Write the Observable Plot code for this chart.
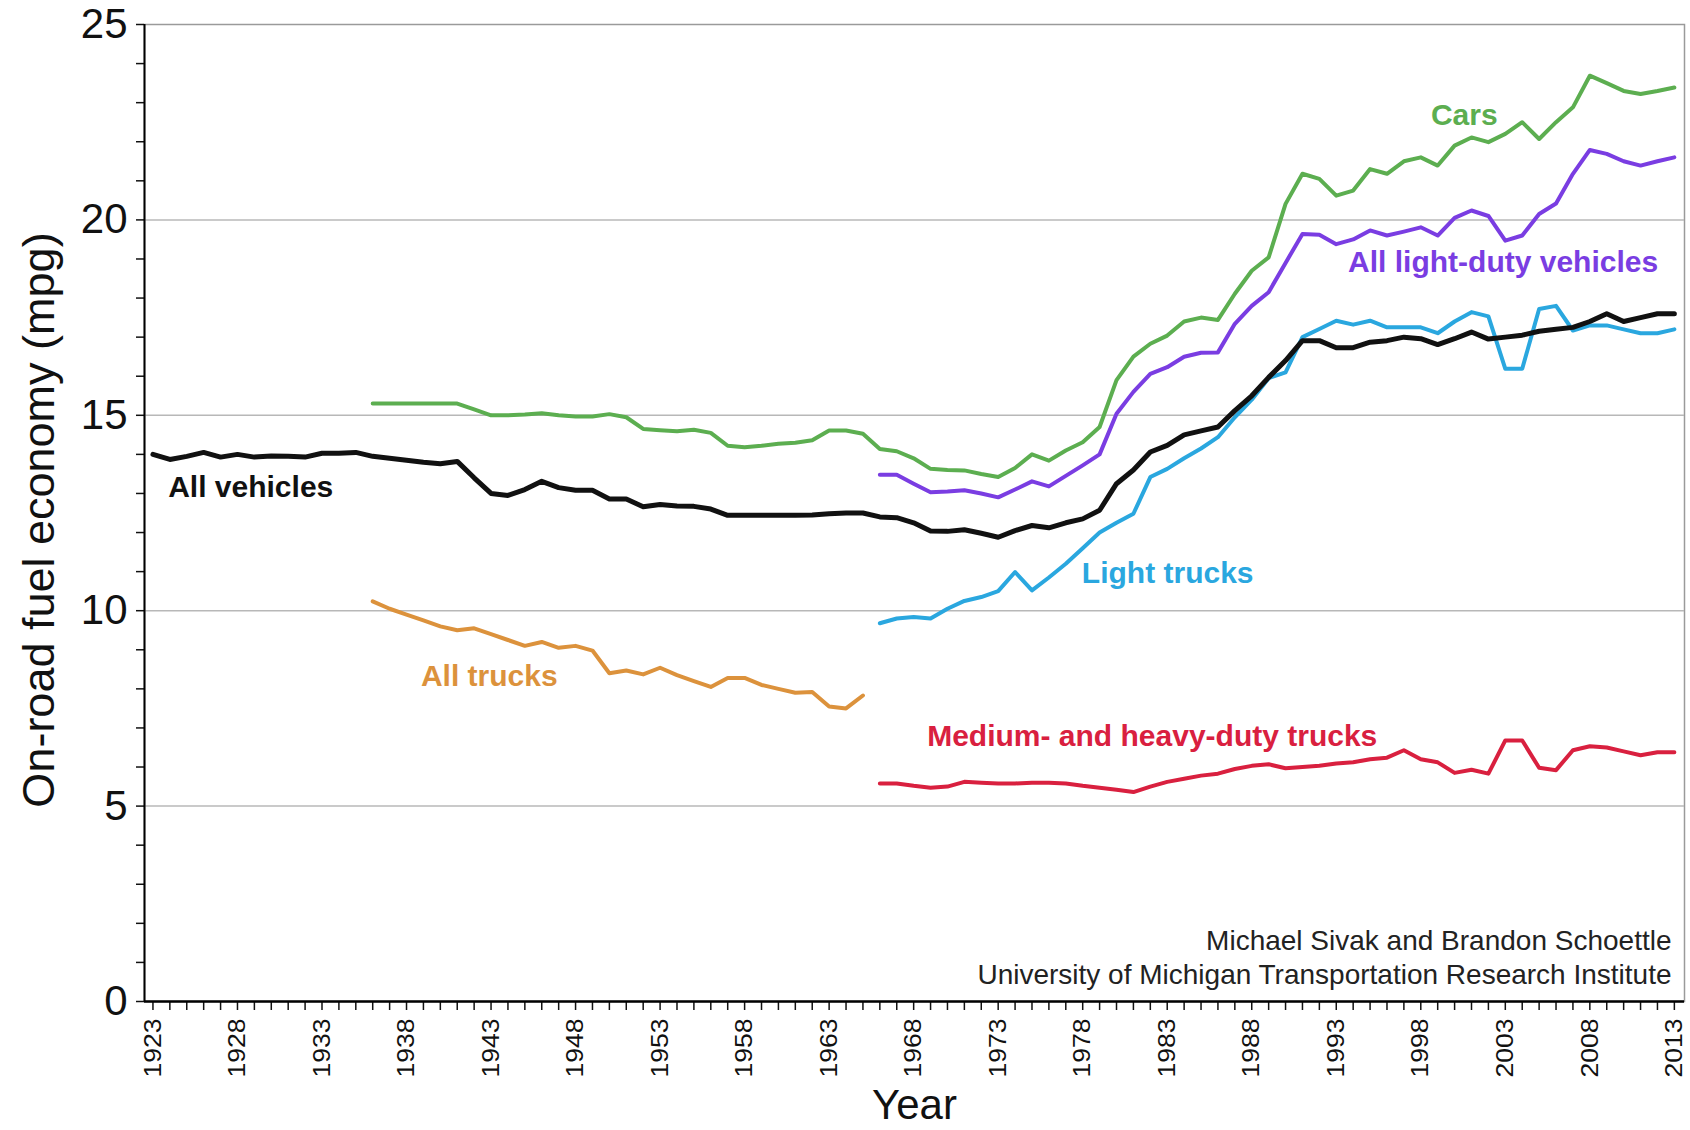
<!DOCTYPE html>
<html><head><meta charset="utf-8">
<script src="https://cdn.jsdelivr.net/npm/d3@7"></script>
<script src="https://cdn.jsdelivr.net/npm/@observablehq/plot@0.6"></script>
<style>
html,body{margin:0;padding:0;background:#fff;}
#chart{width:1690px;height:1130px;overflow:hidden;}
</style></head><body><div id="chart"></div>
<script>
// ---- data (mpg) ----
const allVehiclesStart = 1923;
const allVehicles = [14.0, 13.87, 13.95, 14.05, 13.93, 14.0, 13.93, 13.96, 13.95, 13.93,
  14.03, 14.03, 14.05, 13.95, 13.9, 13.85, 13.8, 13.76, 13.82, 13.4,
  13.0, 12.95, 13.1, 13.31, 13.15, 13.08, 13.08, 12.86, 12.86, 12.66,
  12.72, 12.68, 12.67, 12.6, 12.44, 12.44, 12.44, 12.44, 12.44, 12.45,
  12.48, 12.5, 12.5, 12.4, 12.38, 12.25, 12.04, 12.03, 12.07, 11.98,
  11.88, 12.05, 12.18, 12.12, 12.25, 12.35, 12.57, 13.25, 13.6, 14.06,
  14.23, 14.5, 14.6, 14.7, 15.12, 15.5, 15.97, 16.4, 16.91, 16.91,
  16.73, 16.73, 16.87, 16.91, 17.0, 16.96, 16.81, 16.96, 17.13, 16.95,
  17.0, 17.05, 17.15, 17.2, 17.25, 17.4, 17.6, 17.4, 17.5, 17.6,
  17.6];
const carsStart = 1936;
const cars = [15.3, 15.3, 15.3, 15.3, 15.3, 15.3, 15.15, 15.0, 15.0, 15.02,
  15.05, 15.0, 14.97, 14.97, 15.03, 14.95, 14.65, 14.62, 14.59, 14.63,
  14.55, 14.22, 14.18, 14.22, 14.27, 14.3, 14.36, 14.61, 14.61, 14.53,
  14.14, 14.08, 13.9, 13.63, 13.6, 13.59, 13.5, 13.42, 13.65, 14.0,
  13.84, 14.1, 14.31, 14.7, 15.9, 16.5, 16.83, 17.04, 17.4, 17.5,
  17.44, 18.11, 18.7, 19.04, 20.41, 21.18, 21.05, 20.62, 20.75, 21.3,
  21.18, 21.5, 21.6, 21.39, 21.9, 22.11, 21.99, 22.2, 22.5, 22.07,
  22.5, 22.88, 23.69, 23.5, 23.3, 23.22, 23.3, 23.39];
const allTrucksStart = 1936;
const allTrucks = [10.24, 10.05, 9.9, 9.75, 9.6, 9.5, 9.55, 9.4, 9.25, 9.1,
  9.2, 9.05, 9.1, 8.98, 8.4, 8.47, 8.37, 8.54, 8.35, 8.2,
  8.05, 8.28, 8.28, 8.1, 8.0, 7.9, 7.92, 7.55, 7.5, 7.83];
const modernStart = 1966;
const lightDuty = [13.48, 13.48, 13.25, 13.03, 13.05, 13.08, 13.0, 12.9, 13.1, 13.31,
  13.18, 13.45, 13.72, 14.0, 15.04, 15.6, 16.06, 16.23, 16.5, 16.6,
  16.61, 17.34, 17.8, 18.15, 18.9, 19.64, 19.62, 19.38, 19.5, 19.73,
  19.6, 19.7, 19.81, 19.6, 20.05, 20.24, 20.1, 19.47, 19.6, 20.15,
  20.42, 21.18, 21.79, 21.69, 21.5, 21.39, 21.5, 21.6];
const lightTrucks = [9.68, 9.8, 9.84, 9.8, 10.05, 10.25, 10.35, 10.5, 10.99, 10.52,
  10.85, 11.2, 11.6, 12.0, 12.25, 12.48, 13.42, 13.63, 13.9, 14.15,
  14.44, 14.95, 15.4, 15.95, 16.1, 17.0, 17.21, 17.42, 17.32, 17.42,
  17.25, 17.25, 17.25, 17.1, 17.4, 17.64, 17.53, 16.19, 16.19, 17.72,
  17.8, 17.17, 17.3, 17.3, 17.2, 17.1, 17.1, 17.2];
const mediumHeavy = [5.58, 5.58, 5.52, 5.47, 5.5, 5.62, 5.6, 5.58, 5.58, 5.6,
  5.6, 5.58, 5.52, 5.47, 5.42, 5.36, 5.5, 5.62, 5.7, 5.78,
  5.83, 5.95, 6.03, 6.07, 5.97, 6.0, 6.03, 6.09, 6.12, 6.2,
  6.24, 6.43, 6.2, 6.12, 5.85, 5.93, 5.83, 6.68, 6.68, 5.98,
  5.92, 6.43, 6.53, 6.5, 6.4, 6.3, 6.38, 6.38];

const seriesNames = ["All vehicles", "Cars", "All trucks", "All light-duty vehicles", "Light trucks", "Medium- and heavy-duty trucks"];
const seriesColors = ["#111111", "#5cae50", "#dc923c", "#7a3de2", "#2aa7df", "#d9203f"];

// series label anchors (year, mpg)
const labelText = seriesNames;
const labelYear = [1923.9, 1998.6, 1938.85, 1993.7, 1977.95, 1968.8];
const labelValue = [13.15, 22.67, 8.32, 18.9, 10.95, 6.78];

const yTicks = [0,1,2,3,4,5,6,7,8,9,10,11,12,13,14,15,16,17,18,19,20,21,22,23,24,25];
const gridValues = [5, 10, 15, 20];
const xTickYears = d3.range(1923, 2014);
const yTitle = "On-road fuel economy (mpg)";
const xTitle = "Year";
const credit1 = "Michael Sivak and Brandon Schoettle";
const credit2 = "University of Michigan Transportation Research Institute";

// ---- build table ----
const rows = [];
function addSeries(name, start, values) {
  values.forEach((v, i) => rows.push({series: name, year: start + i, value: v}));
}
addSeries("All vehicles", allVehiclesStart, allVehicles);
addSeries("Cars", carsStart, cars);
addSeries("All trucks", allTrucksStart, allTrucks);
addSeries("All light-duty vehicles", modernStart, lightDuty);
addSeries("Light trucks", modernStart, lightTrucks);
addSeries("Medium- and heavy-duty trucks", modernStart, mediumHeavy);

const labels = labelText.map((t, i) => ({text: t, year: labelYear[i], value: labelValue[i], series: t}));

const font = "'Liberation Sans', Arial, Helvetica, sans-serif";

const plot = Plot.plot({
  width: 1690, height: 1130,
  marginLeft: 144, marginRight: 6, marginTop: 24, marginBottom: 129,
  style: {fontFamily: font, background: "#fff", color: "#111"},
  x: {domain: [1922.5, 2013.6]},
  y: {domain: [0, 25]},
  color: {domain: seriesNames, range: seriesColors},
  marks: [
    Plot.frame({stroke: "#9a9a9a", strokeWidth: 1.5}),
    Plot.ruleY(gridValues, {stroke: "#b8b8b8", strokeWidth: 1.5}),
    Plot.axisY({ticks: yTicks, tickSize: 8, tickPadding: 9, strokeWidth: 1.5,
      tickFormat: d => d % 5 === 0 ? String(d) : "", fontSize: 42, label: null}),
    Plot.axisX({ticks: xTickYears, tickSize: 9, tickPadding: 8, tickRotate: -90, strokeWidth: 1.5,
      tickFormat: d => (d - 1923) % 5 === 0 ? String(d) : "", fontSize: 24, label: null}),
    Plot.ruleX([1922.5], {stroke: "#000", strokeWidth: 2}),
    Plot.ruleY([0], {stroke: "#000", strokeWidth: 2.5}),
    Plot.line(rows.filter(d => d.series !== "All vehicles"), {x: "year", y: "value", z: "series", stroke: "series", strokeWidth: 4, strokeLinejoin: "round"}),
    Plot.line(rows.filter(d => d.series === "All vehicles"), {x: "year", y: "value", stroke: "series", strokeWidth: 5, strokeLinejoin: "round"}),
    Plot.text(labels, {x: "year", y: "value", text: "text", fill: "series", textAnchor: "start", fontWeight: "bold", fontSize: 30}),
    Plot.text([yTitle], {frameAnchor: "left", dx: -105, dy: 7, rotate: -90, textAnchor: "middle", lineAnchor: "middle", fontSize: 45, fill: "#111"}),
    Plot.text([xTitle], {frameAnchor: "bottom", dy: 104, textAnchor: "middle", lineAnchor: "middle", fontSize: 42, fill: "#111"}),
    Plot.text([credit1], {frameAnchor: "bottom-right", dx: -13, dy: -60, textAnchor: "end", lineAnchor: "middle", fontSize: 28, fill: "#222"}),
    Plot.text([credit2], {frameAnchor: "bottom-right", dx: -13, dy: -26, textAnchor: "end", lineAnchor: "middle", fontSize: 28, fill: "#222"})
  ]
});

d3.select(plot).selectAll("g[aria-label='x-axis tick label'] text")
  .filter(function() { return this.textContent.length > 0; })
  .attr("textLength", 59).attr("lengthAdjust", "spacingAndGlyphs");

document.getElementById("chart").appendChild(plot);
</script>
</body></html>
